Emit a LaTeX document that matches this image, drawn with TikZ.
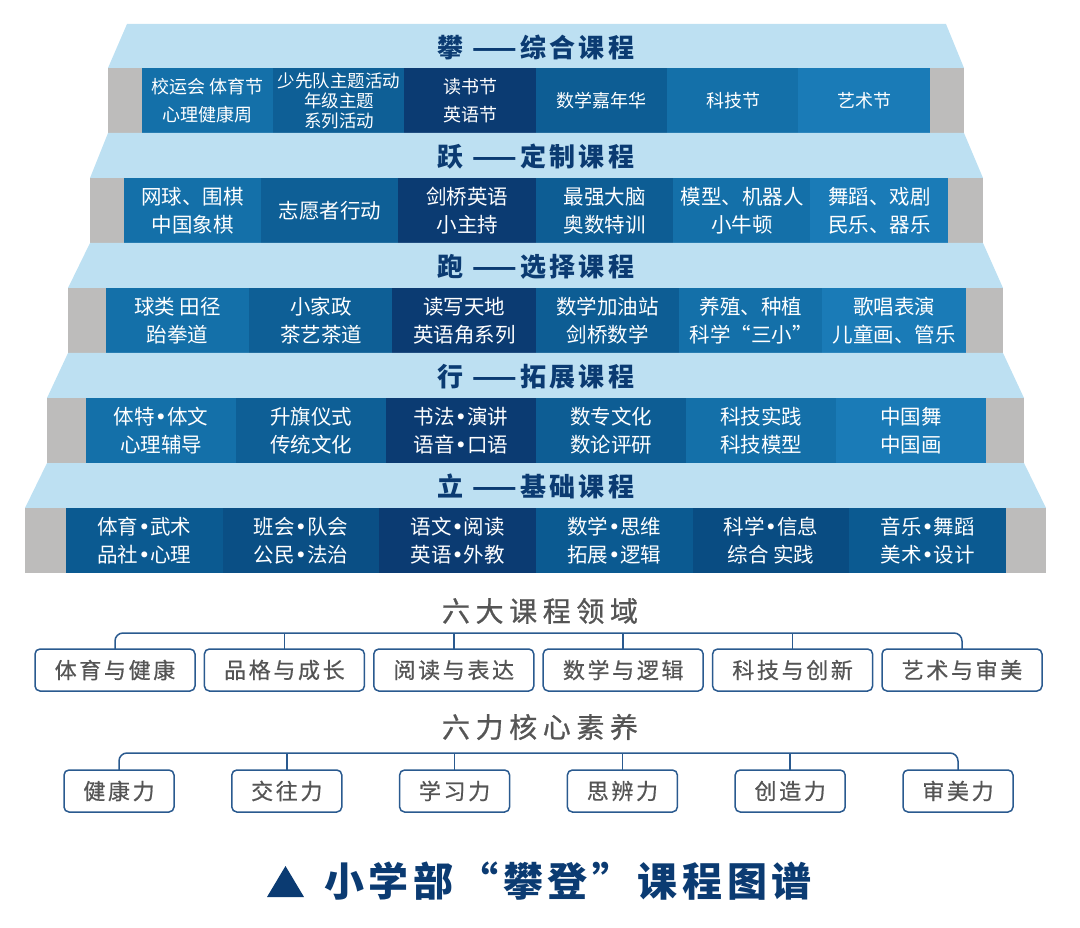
\documentclass[tikz,border=0pt]{standalone}
\usepackage{fontspec}
\setmainfont{Noto Sans CJK SC}
\newfontfamily\cjkwide{Noto Sans CJK SC}[LetterSpace=12]
\newfontfamily\grayfont{Noto Sans CJK SC}[LetterSpace=12, FakeBold=0.6]
\newfontfamily\grayfontwide{Noto Sans CJK SC}[LetterSpace=20, FakeBold=0.8]
\newfontfamily\dotfont{DejaVu Sans}
\newcommand\mdot{{\dotfont •}}
\usepackage{tikz}
\definecolor{band}{HTML}{BDE0F2}
\definecolor{stone}{HTML}{BDBCBB}
\definecolor{navy}{HTML}{0B3B72}
\definecolor{blueA}{HTML}{1470A9}
\definecolor{blueB}{HTML}{0E5F96}
\definecolor{blueD}{HTML}{0D5D94}
\definecolor{blueE}{HTML}{1A7BB7}
\definecolor{baseA}{HTML}{0B5A91}
\definecolor{baseB}{HTML}{0A4F85}
\definecolor{baseE}{HTML}{094C82}
\definecolor{inkgray}{HTML}{555555}
\definecolor{linkblue}{HTML}{2A5A8F}
\tikzset{
    every node/.style={inner sep=0pt, outer sep=0pt}
}
\tikzset{
    cell/.style={text=white, minimum height=65pt, align=center,
    	font=\fontsize{20.5}{28}\selectfont},
    panrow/.style={cell, minimum width=131.7pt, font=\fontsize{18}{28}\selectfont},
    yuerow/.style={cell, minimum width=137.7pt},
    paorow/.style={cell, minimum width=143.7pt},
    xingrow/.style={cell, minimum width=150.4pt},
    lirow/.style={cell, minimum width=157pt},
    tiertitle/.style={text=navy, font=\fontsize{26}{26}\selectfont\bfseries\cjkwide}
}
\tikzset{
    field/.style={text=inkgray, font=\fontsize{28}{28}\selectfont\grayfontwide},
    areabox/.style={draw=linkblue, line width=1.5pt, rounded corners=5pt, fill=white,
    	minimum width=160pt, minimum height=42pt, text=inkgray,
    	font=\fontsize{22}{22}\selectfont\grayfont},
    corebox/.style={areabox, minimum width=110pt},
    link/.style={draw=linkblue, line width=1.5pt, rounded corners=8pt}
}

\begin{document}
\begin{tikzpicture}[x=1pt, y=-1pt]
	\useasboundingbox (0,0) rectangle (1080,928);

	% 攀
	\fill[band] (127,24) -- (946,24) -- (964,68) -- (108,68) -- cycle;
	\fill[stone] (108,68) rectangle (964,133);
	\node[tiertitle] (pan) at (536,47) {攀 ——综合课程};
	\node[panrow, fill=blueA] (pan1) at (207.7,100.5) {校运会 体育节\\心理健康周};
	\node[panrow, fill=blueB, font=\fontsize{17.5}{20}\selectfont] (pan2) at (339,100.5) {少先队主题活动\\年级主题\\系列活动};
	\node[panrow, fill=navy] (pan3) at (470.3,100.5) {读书节\\英语节};
	\node[panrow, fill=blueD] (pan4) at (601.7,100.5) {数学嘉年华};
	\node[panrow, fill=blueA] (pan5) at (733,100.5) {科技节};
	\node[panrow, fill=blueE] (pan6) at (864.3,100.5) {艺术节};

	% 跃
	\fill[band] (108,133) -- (964,133) -- (983,178) -- (90,178) -- cycle;
	\fill[stone] (90,178) rectangle (983,243);
	\node[tiertitle] (yue) at (536,157) {跃 ——定制课程};
	\node[yuerow, fill=blueA] (yue1) at (192.7,210.5) {网球、围棋\\中国象棋};
	\node[yuerow, fill=blueB] (yue2) at (330,210.5) {志愿者行动};
	\node[yuerow, fill=navy] (yue3) at (467.3,210.5) {剑桥英语\\小主持};
	\node[yuerow, fill=blueD] (yue4) at (604.7,210.5) {最强大脑\\奥数特训};
	\node[yuerow, fill=blueA] (yue5) at (742,210.5) {模型、机器人\\小牛顿};
	\node[yuerow, fill=blueE] (yue6) at (879.3,210.5) {舞蹈、戏剧\\民乐、器乐};

	% 跑
	\fill[band] (90,243) -- (983,243) -- (1003,288) -- (68,288) -- cycle;
	\fill[stone] (68,288) rectangle (1003,353);
	\node[tiertitle] (pao) at (536,267) {跑 ——选择课程};
	\node[paorow, fill=blueA] (pao1) at (177.7,320.5) {球类 田径\\跆拳道};
	\node[paorow, fill=blueB] (pao2) at (321,320.5) {小家政\\茶艺茶道};
	\node[paorow, fill=navy] (pao3) at (464.3,320.5) {读写天地\\英语角系列};
	\node[paorow, fill=blueD] (pao4) at (607.7,320.5) {数学加油站\\剑桥数学};
	\node[paorow, fill=blueA] (pao5) at (751,320.5) {养殖、种植\\科学“三小”};
	\node[paorow, fill=blueE] (pao6) at (894.3,320.5) {歌唱表演\\儿童画、管乐};

	% 行
	\fill[band] (68,353) -- (1003,353) -- (1024,398) -- (47,398) -- cycle;
	\fill[stone] (47,398) rectangle (1024,463);
	\node[tiertitle] (xing) at (536,377) {行 ——拓展课程};
	\node[xingrow, fill=blueA] (xing1) at (161,430.5) {体特\mdot 体文\\心理辅导};
	\node[xingrow, fill=blueB] (xing2) at (311,430.5) {升旗仪式\\传统文化};
	\node[xingrow, fill=navy] (xing3) at (461,430.5) {书法\mdot 演讲\\语音\mdot 口语};
	\node[xingrow, fill=blueD] (xing4) at (611,430.5) {数专文化\\数论评研};
	\node[xingrow, fill=blueA] (xing5) at (761,430.5) {科技实践\\科技模型};
	\node[xingrow, fill=blueE] (xing6) at (911,430.5) {中国舞\\中国画};

	% 立
	\fill[band] (47,463) -- (1024,463) -- (1046,508) -- (25,508) -- cycle;
	\fill[stone] (25,508) rectangle (1046,573);
	\node[tiertitle] (li) at (536,486) {立 ——基础课程};
	\node[lirow, fill=baseA] (li1) at (144.3,540.5) {体育\mdot 武术\\品社\mdot 心理};
	\node[lirow, fill=baseB] (li2) at (301,540.5) {班会\mdot 队会\\公民\mdot 法治};
	\node[lirow, fill=navy] (li3) at (457.7,540.5) {语文\mdot 阅读\\英语\mdot 外教};
	\node[lirow, fill=baseA] (li4) at (614.3,540.5) {数学\mdot 思维\\拓展\mdot 逻辑};
	\node[lirow, fill=baseE] (li5) at (771,540.5) {科学\mdot 信息\\综合 实践};
	\node[lirow, fill=baseA] (li6) at (927.7,540.5) {音乐\mdot 舞蹈\\美术\mdot 设计};

	% 六大课程领域
	\node[field] (areas) at (540,611) {六大课程领域};
	\node[areabox] (d1) at (115,670) {体育与健康};
	\node[areabox] (d2) at (284.4,670) {品格与成长};
	\node[areabox] (d3) at (453.8,670) {阅读与表达};
	\node[areabox] (d4) at (623.2,670) {数学与逻辑};
	\node[areabox] (d5) at (792.6,670) {科技与创新};
	\node[areabox] (d6) at (962,670) {艺术与审美};
	\coordinate (fork1) at (538,633);
	\draw[link] (d1.north) |- (fork1) -| (d6.north);
	\draw[link] (d2.north) -- (d2.north |- fork1); \draw[link] (d3.north) -- (d3.north |- fork1);
	\draw[link] (d4.north) -- (d4.north |- fork1); \draw[link] (d5.north) -- (d5.north |- fork1);

	% 六力核心素养
	\node[field] (powers) at (540,727) {六力核心素养};
	\node[corebox] (k1) at (119,791) {健康力};
	\node[corebox] (k2) at (286.8,791) {交往力};
	\node[corebox] (k3) at (454.6,791) {学习力};
	\node[corebox] (k4) at (622.4,791) {思辨力};
	\node[corebox] (k5) at (790.2,791) {创造力};
	\node[corebox] (k6) at (958,791) {审美力};
	\coordinate (fork2) at (538,753);
	\draw[link] (k1.north) |- (fork2) -| (k6.north);
	\draw[link] (k2.north) -- (k2.north |- fork2); \draw[link] (k3.north) -- (k3.north |- fork2);
	\draw[link] (k4.north) -- (k4.north |- fork2); \draw[link] (k5.north) -- (k5.north |- fork2);

	% title
	\fill[navy] (267,897) -- (304,897) -- (285.5,866) -- cycle;
	\node[anchor=west, text=navy, font=\fontsize{40}{40}\selectfont\bfseries\cjkwide] (maptitle) at (324,881) {小学部“攀登”课程图谱};
\end{tikzpicture}
\end{document}
